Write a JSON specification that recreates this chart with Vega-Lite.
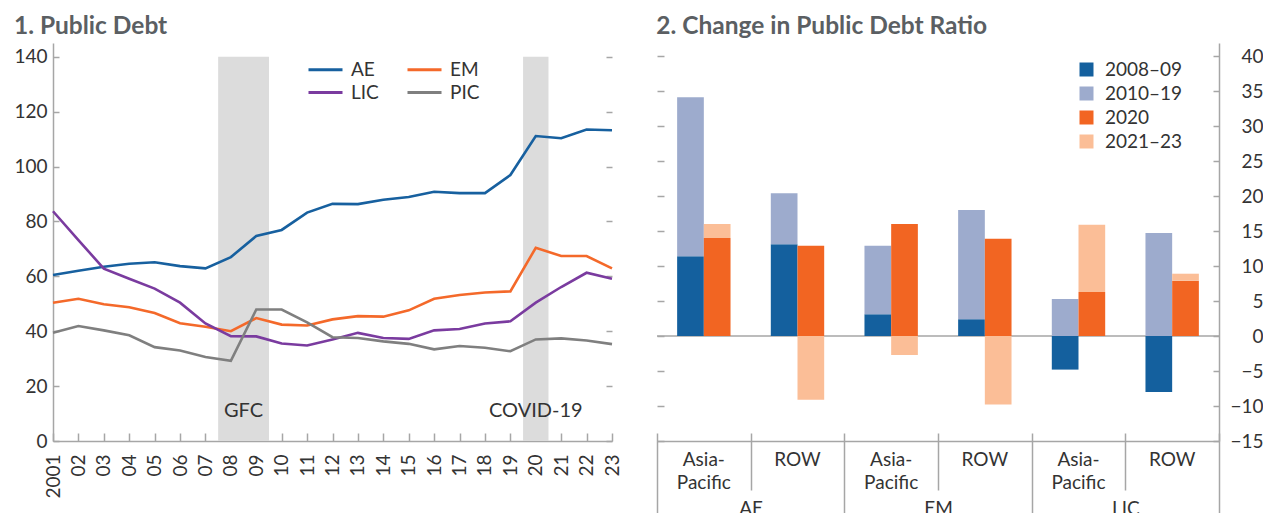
{
  "$schema": "https://vega.github.io/schema/vega-lite/v6.json",
  "background": "white",
  "padding": {"left": 13, "top": 13, "right": 0, "bottom": 0},
  "spacing": 34,
  "resolve": {"scale": {"color": "independent"}, "legend": {"color": "independent"}},
  "config": {
    "font": "Lato",
    "view": {"stroke": null},
    "axis": {"labelFont": "Lato", "labelFontSize": 19, "labelColor": "#333333", "domainColor": "#a6a6a6", "tickColor": "#a6a6a6", "domainWidth": 1.5, "tickWidth": 1.5, "grid": false, "title": null, "labelFlush": false, "labelOverlap": false},
    "title": {"font": "Lato", "fontSize": 24.5, "fontWeight": "bold", "color": "#5b5f63", "anchor": "start", "frame": "bounds"},
    "legend": {"labelFont": "Lato", "labelFontSize": 19, "labelColor": "#333333", "title": null}
  },
  "hconcat": [
    {
      "title": {"text": "1. Public Debt", "offset": 4},
      "width": 559,
      "height": 398,
      "layer": [
        {
          "data": {"values": [
            {"event": "GFC", "start": 2007.5, "end": 2009.5, "mid": 2008.5},
            {"event": "COVID-19", "start": 2019.5, "end": 2020.5, "mid": 2020}
          ]},
          "mark": {"type": "rect", "color": "#dcdcdc"},
          "encoding": {
            "x": {"field": "start", "type": "quantitative",
              "scale": {"domain": [2001, 2023], "nice": false, "zero": false},
              "axis": {"orient": "bottom", "values": [2001,2002,2003,2004,2005,2006,2007,2008,2009,2010,2011,2012,2013,2014,2015,2016,2017,2018,2019,2020,2021,2022,2023],
                "tickCount": 50,
                "format": "d", "labelExpr": "datum.value == 2001 ? datum.label : slice(datum.label, 2)",
                "labelOverlap": false, "labelFlush": false,
                "labelAngle": -90, "labelAlign": "right", "labelBaseline": "middle", "tickSize": -8, "labelPadding": 21}},
            "x2": {"field": "end"},
            "y": {"datum": 0, "type": "quantitative",
              "scale": {"domain": [0, 145], "nice": false},
              "axis": {"orient": "right", "values": [0,20,40,60,80,100,120,140], "labels": false, "domain": false, "tickSize": -6}},
            "y2": {"datum": 140}
          }
        },
        {
          "data": {"values": [
            {"event": "GFC", "start": 2007.5, "end": 2009.5, "mid": 2008.5},
            {"event": "COVID-19", "start": 2019.5, "end": 2020.5, "mid": 2020}
          ]},
          "mark": {"type": "text", "font": "Lato", "fontSize": 20, "color": "#333333", "baseline": "middle", "align": "center"},
          "encoding": {
            "x": {"field": "mid", "type": "quantitative"},
            "y": {"datum": 11, "type": "quantitative", "axis": null},
            "text": {"field": "event"}
          }
        },
        {
          "data": {"values": [
            {"s":"AE","year":2001,"v":60.5},{"s":"AE","year":2002,"v":62.0},{"s":"AE","year":2003,"v":63.5},{"s":"AE","year":2004,"v":64.6},{"s":"AE","year":2005,"v":65.1},{"s":"AE","year":2006,"v":63.7},{"s":"AE","year":2007,"v":62.9},{"s":"AE","year":2008,"v":67.0},{"s":"AE","year":2009,"v":74.7},{"s":"AE","year":2010,"v":76.9},{"s":"AE","year":2011,"v":83.2},{"s":"AE","year":2012,"v":86.4},{"s":"AE","year":2013,"v":86.3},{"s":"AE","year":2014,"v":87.9},{"s":"AE","year":2015,"v":88.9},{"s":"AE","year":2016,"v":90.8},{"s":"AE","year":2017,"v":90.3},{"s":"AE","year":2018,"v":90.3},{"s":"AE","year":2019,"v":96.9},{"s":"AE","year":2020,"v":111.1},{"s":"AE","year":2021,"v":110.3},{"s":"AE","year":2022,"v":113.5},{"s":"AE","year":2023,"v":113.2},
            {"s":"EM","year":2001,"v":50.4},{"s":"EM","year":2002,"v":51.8},{"s":"EM","year":2003,"v":49.8},{"s":"EM","year":2004,"v":48.7},{"s":"EM","year":2005,"v":46.6},{"s":"EM","year":2006,"v":42.9},{"s":"EM","year":2007,"v":41.6},{"s":"EM","year":2008,"v":40.0},{"s":"EM","year":2009,"v":44.8},{"s":"EM","year":2010,"v":42.4},{"s":"EM","year":2011,"v":42.1},{"s":"EM","year":2012,"v":44.3},{"s":"EM","year":2013,"v":45.5},{"s":"EM","year":2014,"v":45.3},{"s":"EM","year":2015,"v":47.6},{"s":"EM","year":2016,"v":51.8},{"s":"EM","year":2017,"v":53.2},{"s":"EM","year":2018,"v":54.1},{"s":"EM","year":2019,"v":54.5},{"s":"EM","year":2020,"v":70.4},{"s":"EM","year":2021,"v":67.4},{"s":"EM","year":2022,"v":67.4},{"s":"EM","year":2023,"v":62.9},
            {"s":"LIC","year":2001,"v":83.7},{"s":"LIC","year":2002,"v":73.2},{"s":"LIC","year":2003,"v":62.8},{"s":"LIC","year":2004,"v":59.1},{"s":"LIC","year":2005,"v":55.5},{"s":"LIC","year":2006,"v":50.4},{"s":"LIC","year":2007,"v":42.8},{"s":"LIC","year":2008,"v":38.2},{"s":"LIC","year":2009,"v":38.1},{"s":"LIC","year":2010,"v":35.5},{"s":"LIC","year":2011,"v":34.8},{"s":"LIC","year":2012,"v":37.0},{"s":"LIC","year":2013,"v":39.4},{"s":"LIC","year":2014,"v":37.5},{"s":"LIC","year":2015,"v":37.2},{"s":"LIC","year":2016,"v":40.3},{"s":"LIC","year":2017,"v":40.8},{"s":"LIC","year":2018,"v":42.8},{"s":"LIC","year":2019,"v":43.6},{"s":"LIC","year":2020,"v":50.4},{"s":"LIC","year":2021,"v":56.1},{"s":"LIC","year":2022,"v":61.3},{"s":"LIC","year":2023,"v":59.1},
            {"s":"PIC","year":2001,"v":39.4},{"s":"PIC","year":2002,"v":41.9},{"s":"PIC","year":2003,"v":40.3},{"s":"PIC","year":2004,"v":38.5},{"s":"PIC","year":2005,"v":34.2},{"s":"PIC","year":2006,"v":33.0},{"s":"PIC","year":2007,"v":30.6},{"s":"PIC","year":2008,"v":29.2},{"s":"PIC","year":2009,"v":47.9},{"s":"PIC","year":2010,"v":47.9},{"s":"PIC","year":2011,"v":43.2},{"s":"PIC","year":2012,"v":37.8},{"s":"PIC","year":2013,"v":37.5},{"s":"PIC","year":2014,"v":36.3},{"s":"PIC","year":2015,"v":35.4},{"s":"PIC","year":2016,"v":33.4},{"s":"PIC","year":2017,"v":34.6},{"s":"PIC","year":2018,"v":34.0},{"s":"PIC","year":2019,"v":32.7},{"s":"PIC","year":2020,"v":37.0},{"s":"PIC","year":2021,"v":37.4},{"s":"PIC","year":2022,"v":36.6},{"s":"PIC","year":2023,"v":35.3}
          ]},
          "mark": {"type": "line", "strokeWidth": 2.6},
          "encoding": {
            "x": {"field": "year", "type": "quantitative"},
            "y": {"field": "v", "type": "quantitative",
              "axis": {"orient": "left", "values": [0,20,40,60,80,100,120,140], "tickSize": -6, "labelPadding": 12}},
            "color": {"field": "s", "type": "nominal",
              "scale": {"domain": ["AE","LIC","EM","PIC"], "range": ["#17609f","#7a3b9f","#f4692a","#7f7f7f"]},
              "legend": {"orient": "none", "legendX": 254, "legendY": 15, "columns": 2, "symbolType": "M-1,0H2.4", "symbolSize": 400, "symbolStrokeWidth": 3, "labelOffset": 21, "columnPadding": 22, "rowPadding": 1}}
          }
        }
      ],
      "resolve": {"axis": {"y": "independent"}}
    },
    {
      "title": {"text": "2. Change in Public Debt Ratio", "offset": 4},
      "width": 562,
      "height": 398,
      "layer": [
        {
          "data": {"values": [{"line": "zero"}]},
          "mark": {"type": "rule", "color": "#a6a6a6", "strokeWidth": 1.5},
          "encoding": {
            "y": {"datum": 0, "type": "quantitative",
              "scale": {"domain": [-15, 41.86], "nice": false, "zero": false},
              "axis": {"orient": "left", "values": [-15,-10,-5,0,5,10,15,20,25,30,35,40], "labels": false, "domain": false, "tickSize": -7}}
          }
        },
        {
          "data": {"values": [
            {"cat":"AE Asia-Pacific","side":"pre","p":"2008–09","v":11.4},{"cat":"AE Asia-Pacific","side":"pre","p":"2010–19","v":22.7},{"cat":"AE Asia-Pacific","side":"post","p":"2020","v":14.0},{"cat":"AE Asia-Pacific","side":"post","p":"2021–23","v":2.0},
            {"cat":"AE ROW","side":"pre","p":"2008–09","v":13.1},{"cat":"AE ROW","side":"pre","p":"2010–19","v":7.3},{"cat":"AE ROW","side":"post","p":"2020","v":12.9},{"cat":"AE ROW","side":"post","p":"2021–23","v":-9.1},
            {"cat":"EM Asia-Pacific","side":"pre","p":"2008–09","v":3.1},{"cat":"EM Asia-Pacific","side":"pre","p":"2010–19","v":9.8},{"cat":"EM Asia-Pacific","side":"post","p":"2020","v":16.0},{"cat":"EM Asia-Pacific","side":"post","p":"2021–23","v":-2.7},
            {"cat":"EM ROW","side":"pre","p":"2008–09","v":2.4},{"cat":"EM ROW","side":"pre","p":"2010–19","v":15.6},{"cat":"EM ROW","side":"post","p":"2020","v":13.9},{"cat":"EM ROW","side":"post","p":"2021–23","v":-9.8},
            {"cat":"LIC Asia-Pacific","side":"pre","p":"2008–09","v":-4.8},{"cat":"LIC Asia-Pacific","side":"pre","p":"2010–19","v":5.3},{"cat":"LIC Asia-Pacific","side":"post","p":"2020","v":6.3},{"cat":"LIC Asia-Pacific","side":"post","p":"2021–23","v":9.6},
            {"cat":"LIC ROW","side":"pre","p":"2008–09","v":-8.0},{"cat":"LIC ROW","side":"pre","p":"2010–19","v":14.7},{"cat":"LIC ROW","side":"post","p":"2020","v":7.9},{"cat":"LIC ROW","side":"post","p":"2021–23","v":1.0}
          ]},
          "mark": {"type": "bar"},
          "encoding": {
            "x": {"field": "cat", "type": "nominal",
              "sort": ["AE Asia-Pacific","AE ROW","EM Asia-Pacific","EM ROW","LIC Asia-Pacific","LIC ROW"],
              "scale": {"paddingInner": 0.43, "paddingOuter": 0.215},
              "axis": {"orient": "bottom", "ticks": false, "domain": true, "labelAngle": 0, "labelAlign": "center", "labelBaseline": "top",
                "labelExpr": "indexof(datum.value, 'Asia') >= 0 ? ['Asia-', 'Pacific'] : 'ROW'", "labelPadding": 9, "labelLineHeight": 23}},
            "xOffset": {"field": "side", "type": "nominal", "sort": ["pre","post"], "scale": {"paddingInner": 0, "paddingOuter": 0}},
            "y": {"field": "v", "type": "quantitative", "stack": "zero",
              "axis": {"orient": "right", "values": [-15,-10,-5,0,5,10,15,20,25,30,35,40], "tickSize": -6, "labelPadding": 50, "labelAlign": "right"}},
            "order": {"field": "p", "sort": "ascending"},
            "color": {"field": "p", "type": "nominal",
              "scale": {"domain": ["2008–09","2010–19","2020","2021–23"], "range": ["#14609e","#9dabcd","#f26522","#fbbe97"]},
              "legend": {"orient": "none", "legendX": 420, "legendY": 17, "symbolType": "square", "symbolSize": 196, "symbolStrokeWidth": 0, "labelOffset": 9, "rowPadding": 4}}
          }
        },
        {
          "data": {"values": [{"line": "separators"}]},
          "mark": {"type": "rule", "opacity": 0},
          "encoding": {
            "x": {"datum": 0, "type": "quantitative",
              "scale": {"domain": [0, 6], "nice": false, "zero": false},
              "axis": {"orient": "bottom", "values": [0,1,2,3,4,5,6], "offset": -8, "domain": false,
                "tickSize": {"condition": {"test": "datum.value % 2 === 0", "value": 90}, "value": 57},
                "labelExpr": "datum.value == 1 ? 'AE' : datum.value == 3 ? 'EM' : datum.value == 5 ? 'LIC' : ''",
                "labelAngle": 0, "labelAlign": "center", "labelBaseline": "top", "labelPadding": 9}}
          }
        }
      ],
      "resolve": {"scale": {"x": "independent"}, "axis": {"x": "independent", "y": "independent"}}
    }
  ]
}
